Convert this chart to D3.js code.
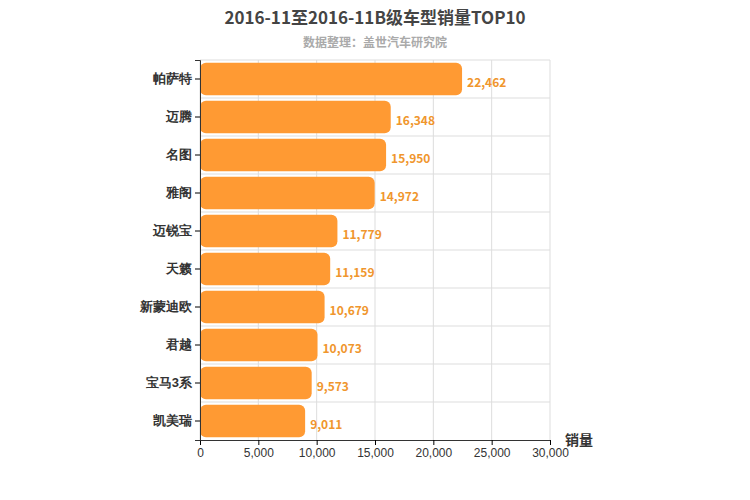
<!DOCTYPE html>
<html><head><meta charset="utf-8">
<script src="https://cdn.jsdelivr.net/npm/d3@7"></script>
<style>body{margin:0;background:#fff;font-family:"Noto Sans CJK SC","Noto Sans",sans-serif}</style>
</head><body><svg id="c" width="750" height="500"></svg>
<script>
const categories=["帕萨特","迈腾","名图","雅阁","迈锐宝","天籁","新蒙迪欧","君越","宝马3系","凯美瑞"];
const values=[22462,16348,15950,14972,11779,11159,10679,10073,9573,9011];
const xTicks=[0,5000,10000,15000,20000,25000,30000];
const svg=d3.select("#c");
const m={l:200,r:550,t:60,b:440};
const x=d3.scaleLinear().domain([0,30000]).range([m.l,m.r]);
const y=d3.scaleBand().domain(categories).range([m.t,m.b]).paddingInner(0.15).paddingOuter(0.075);
const bandAll=d3.scaleBand().domain(categories).range([m.t,m.b]);
const g=svg.append("g");
// grid
g.selectAll(".vg").data(xTicks).join("line").attr("x1",d=>x(d)).attr("x2",d=>x(d)).attr("y1",m.t).attr("y2",m.b).attr("stroke","#ddd");
g.selectAll(".hg").data(categories).join("line").attr("x1",m.l).attr("x2",m.r).attr("y1",d=>bandAll(d)).attr("y2",d=>bandAll(d)).attr("stroke","#ddd");
// bars
g.selectAll("rect").data(values).join("rect").attr("x",x(0)).attr("y",(d,i)=>y(categories[i])).attr("width",d=>x(d)-x(0)).attr("height",y.bandwidth()).attr("rx",6).attr("fill","#ff9a33");
g.selectAll(".lbl").data(values).join("text").attr("x",d=>x(d)+5).attr("y",(d,i)=>y(categories[i])+y.bandwidth()/2+8).attr("fill","#f0962d").attr("font-size",12).attr("font-weight","bold").text(d=>d3.format(",")(d));
// axes
svg.append("g").attr("transform",`translate(0,${m.b})`).call(d3.axisBottom(x).tickValues(xTicks).tickFormat(d3.format(",")).tickSize(5))
 .call(a=>{a.select(".domain").attr("stroke","#333");a.selectAll("text").attr("font-size",12).attr("fill","#333");});
svg.append("g").attr("transform",`translate(${m.l},0)`).call(d3.axisLeft(bandAll).tickSize(5))
 .call(a=>{a.select(".domain").attr("stroke","#333");a.selectAll("text").attr("font-size",13).attr("font-weight","bold").attr("fill","#333");});
svg.append("text").attr("x",565).attr("y",445).attr("font-size",14).attr("font-weight","bold").attr("fill","#333").text("销量");
svg.append("text").attr("x",375).attr("y",24).attr("text-anchor","middle").attr("font-size",17).attr("font-weight","bold").attr("fill","#444").text("2016-11至2016-11B级车型销量TOP10");
svg.append("text").attr("x",375).attr("y",47).attr("text-anchor","middle").attr("font-size",12).attr("font-weight","bold").attr("fill","#aaa").text("数据整理：盖世汽车研究院");
</script></body></html>
